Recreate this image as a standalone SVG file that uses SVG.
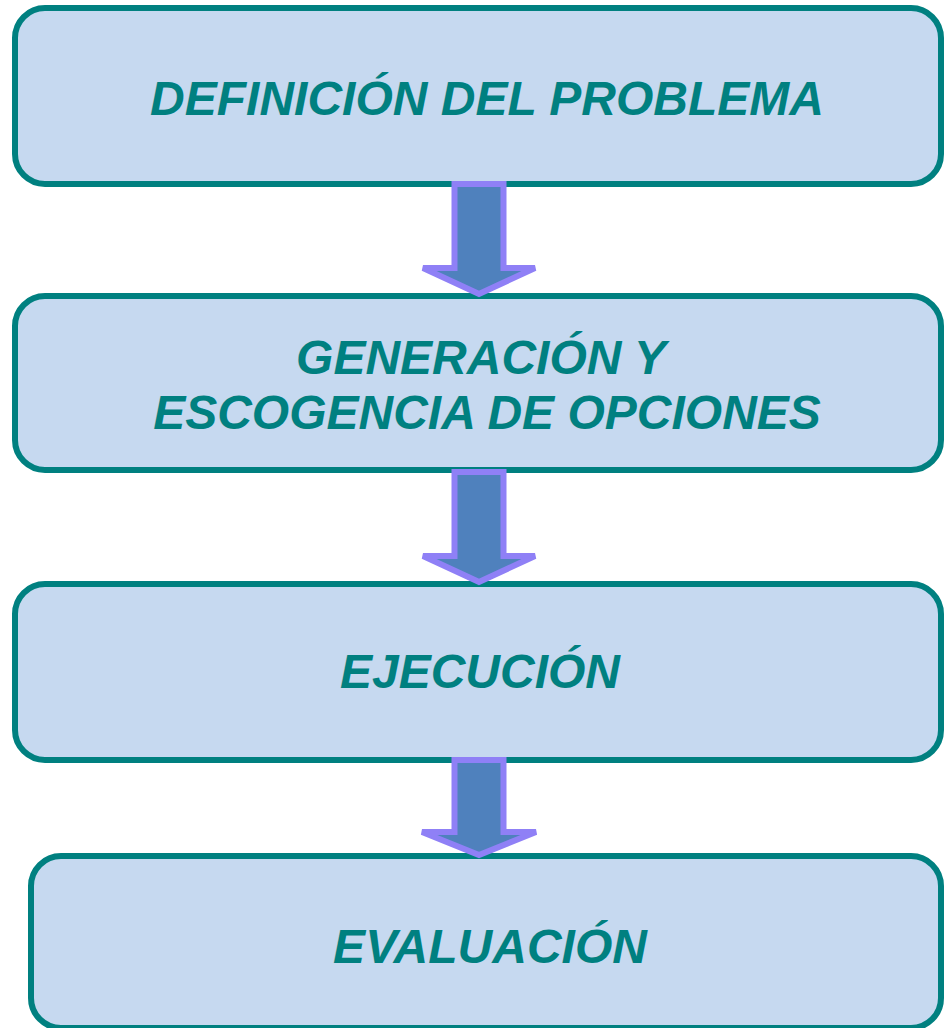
<svg xmlns="http://www.w3.org/2000/svg" width="944" height="1028" viewBox="0 0 944 1028">
<style>
.box{fill:#C6D9F0;stroke:#008080;stroke-width:6}
.arr{fill:#4F81BD;stroke:#8F80F6;stroke-width:6;stroke-linejoin:miter}
.t{font-family:"Liberation Sans",Arial,sans-serif;font-weight:bold;font-style:italic;font-size:48px;fill:#008080;text-anchor:middle}
</style>
<rect width="944" height="1028" fill="#fff"/>
<g id="n1"><rect class="box" x="15" y="8" width="926" height="176" rx="30"/><text class="t" x="487" y="115">DEFINICIÓN DEL PROBLEMA</text></g>
<g id="n2"><rect class="box" x="15" y="296" width="926" height="174" rx="30"/><text class="t" x="481" y="374">GENERACIÓN Y</text><text class="t" x="487" y="429">ESCOGENCIA DE OPCIONES</text></g>
<g id="n3"><rect class="box" x="15" y="584" width="926" height="176" rx="30"/><text class="t" x="480" y="688">EJECUCIÓN</text></g>
<g id="n4"><rect class="box" x="31" y="856" width="910" height="172" rx="30"/><text class="t" x="490" y="963">EVALUACIÓN</text></g>
<g id="connectors">
<polygon class="arr" points="454.5,184 503.5,184 503.5,268 535,268 479,294 423,268 454.5,268"/>
<polygon class="arr" points="454.5,472 503.5,472 503.5,556 535,556 479,582 423,556 454.5,556"/>
<polygon class="arr" points="454.5,760 503.5,760 503.5,832 536,832 479,855 422,832 454.5,832"/>
</g>
</svg>
